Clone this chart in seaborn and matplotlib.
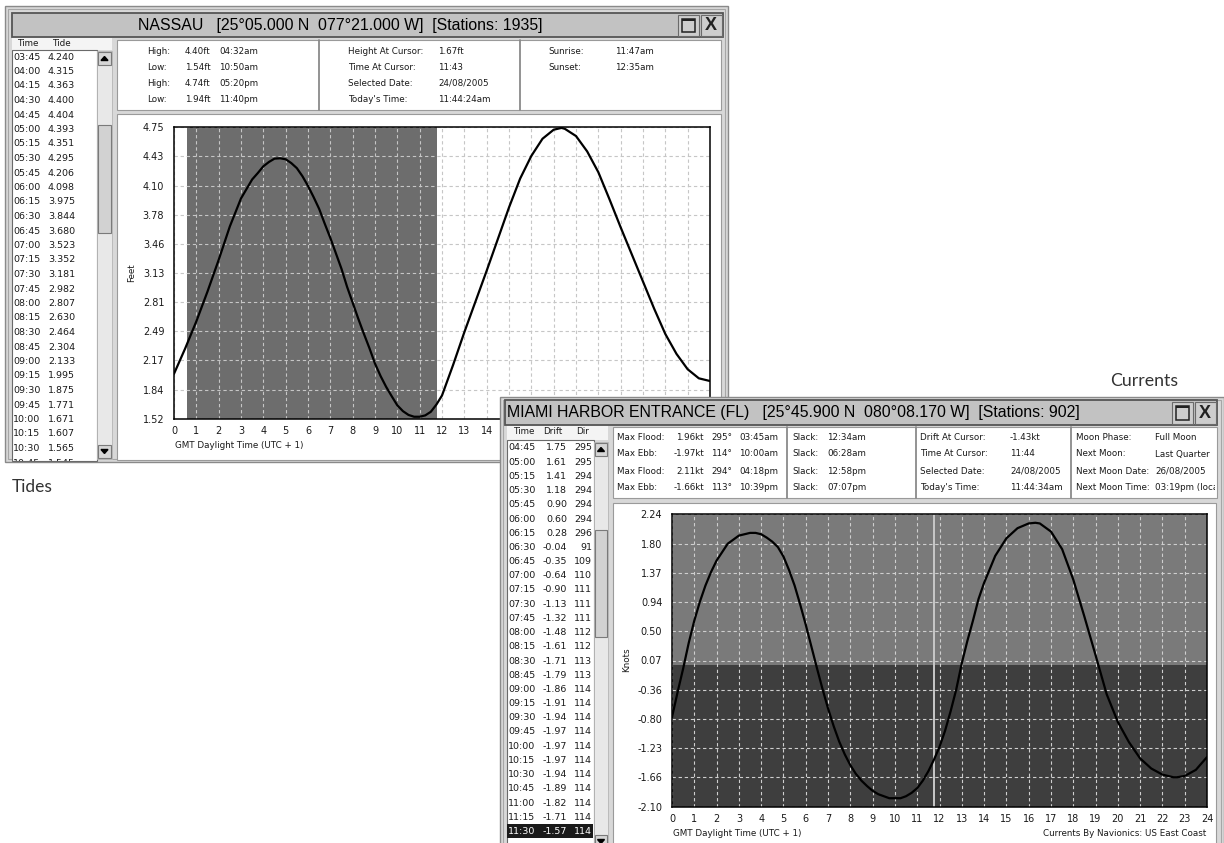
import numpy as np
import pandas as pd
import seaborn as sns
import matplotlib.pyplot as plt
import matplotlib.patches as patches
from matplotlib.transforms import Bbox

# ---- Nassau tides ----
tide_list_times = ["03:45", "04:00", "04:15", "04:30", "04:45", "05:00", "05:15", "05:30", "05:45",
                   "06:00", "06:15", "06:30", "06:45", "07:00", "07:15", "07:30", "07:45", "08:00",
                   "08:15", "08:30", "08:45", "09:00", "09:15", "09:30", "09:45", "10:00", "10:15",
                   "10:30", "10:45"]
tide_list_feet = [4.240, 4.315, 4.363, 4.400, 4.404, 4.393, 4.351, 4.295, 4.206,
                  4.098, 3.975, 3.844, 3.680, 3.523, 3.352, 3.181, 2.982, 2.807,
                  2.630, 2.464, 2.304, 2.133, 1.995, 1.875, 1.771, 1.671, 1.607,
                  1.565, 1.545]
tide_early_hours = [0.0, 0.5, 1.0, 1.5, 2.0, 2.5, 3.0, 3.5]
tide_early_feet = [2.02, 2.30, 2.60, 2.93, 3.28, 3.65, 3.96, 4.17]
tide_late_hours = [11.0, 11.25, 11.5, 11.75, 12.0, 12.5, 13.0, 13.5, 14.0, 14.5, 15.0, 15.5,
                   16.0, 16.5, 17.0, 17.35, 17.5, 18.0, 18.5, 19.0, 19.5, 20.0, 20.5, 21.0,
                   21.5, 22.0, 22.5, 23.0, 23.5, 24.0]
tide_late_feet = [1.545, 1.56, 1.60, 1.68, 1.78, 2.12, 2.48, 2.82, 3.16, 3.51, 3.86, 4.18,
                  4.43, 4.62, 4.72, 4.74, 4.73, 4.65, 4.48, 4.25, 3.95, 3.64, 3.34, 3.04,
                  2.74, 2.46, 2.24, 2.07, 1.97, 1.94]
tide_yticks = [4.75, 4.43, 4.10, 3.78, 3.46, 3.13, 2.81, 2.49, 2.17, 1.84, 1.52]
sunset, sunrise = "00:35", "11:47"

tide_extremes = ["High:", "Low:", "High:", "Low:"]
tide_extreme_ft = ["4.40ft", "1.54ft", "4.74ft", "1.94ft"]
tide_extreme_at = ["04:32am", "10:50am", "05:20pm", "11:40pm"]
tide_cursor_keys = ["Height At Cursor:", "Time At Cursor:", "Selected Date:", "Today's Time:"]
tide_cursor_vals = ["1.67ft", "11:43", "24/08/2005", "11:44:24am"]

# ---- Miami harbor currents ----
cur_list_times = ["04:45", "05:00", "05:15", "05:30", "05:45", "06:00", "06:15", "06:30", "06:45",
                  "07:00", "07:15", "07:30", "07:45", "08:00", "08:15", "08:30", "08:45", "09:00",
                  "09:15", "09:30", "09:45", "10:00", "10:15", "10:30", "10:45", "11:00", "11:15",
                  "11:30"]
cur_list_drift = [1.75, 1.61, 1.41, 1.18, 0.90, 0.60, 0.28, -0.04, -0.35,
                  -0.64, -0.90, -1.13, -1.32, -1.48, -1.61, -1.71, -1.79, -1.86,
                  -1.91, -1.94, -1.97, -1.97, -1.97, -1.94, -1.89, -1.82, -1.71,
                  -1.57]
cur_list_dir = [295, 295, 294, 294, 294, 294, 296, 91, 109,
                110, 111, 111, 111, 112, 112, 113, 113, 114,
                114, 114, 114, 114, 114, 114, 114, 114, 114,
                114]
cur_early_hours = [0.0, 0.25, 0.5, 0.75, 1.0, 1.25, 1.5, 1.75, 2.0, 2.5, 3.0, 3.5, 3.75, 4.0, 4.25, 4.5]
cur_early_knots = [-0.77, -0.40, -0.05, 0.33, 0.66, 0.94, 1.18, 1.38, 1.55, 1.80, 1.92, 1.96,
                   1.96, 1.94, 1.89, 1.83]
cur_late_hours = [11.75, 12.0, 12.25, 12.5, 12.75, 13.0, 13.25, 13.5, 13.75, 14.0, 14.5, 15.0,
                  15.5, 16.0, 16.3, 16.5, 17.0, 17.5, 18.0, 18.5, 19.0, 19.5, 20.0, 20.5,
                  21.0, 21.5, 22.0, 22.5, 22.65, 23.0, 23.5, 24.0]
cur_late_knots = [-1.40, -1.21, -0.97, -0.68, -0.36, 0.03, 0.36, 0.66, 0.98, 1.22, 1.62, 1.88,
                  2.03, 2.10, 2.11, 2.10, 1.98, 1.72, 1.27, 0.72, 0.15, -0.43, -0.84, -1.14,
                  -1.38, -1.53, -1.62, -1.66, -1.66, -1.64, -1.55, -1.36]
cur_yticks = [2.24, 1.80, 1.37, 0.94, 0.50, 0.07, -0.36, -0.80, -1.23, -1.66, -2.10]
cursor_time = "11:44"

cur_max_keys = ["Max Flood:", "Max Ebb:", "Max Flood:", "Max Ebb:"]
cur_max_kt = ["1.96kt", "-1.97kt", "2.11kt", "-1.66kt"]
cur_max_deg = ["295°", "114°", "294°", "113°"]
cur_max_at = ["03:45am", "10:00am", "04:18pm", "10:39pm"]
cur_slack = ["12:34am", "06:28am", "12:58pm", "07:07pm"]
cur_cursor_keys = ["Drift At Cursor:", "Time At Cursor:", "Selected Date:", "Today's Time:"]
cur_cursor_vals = ["-1.43kt", "11:44", "24/08/2005", "11:44:34am"]
moon_keys = ["Moon Phase:", "Next Moon:", "Next Moon Date:", "Next Moon Time:"]
moon_vals = ["Full Moon", "Last Quarter", "26/08/2005", "03:19pm (local)"]


def hours(t):
    h, m = t.split(":")
    return int(h) + int(m) / 60


tide = pd.DataFrame({
    "hour": tide_early_hours + [hours(t) for t in tide_list_times] + tide_late_hours,
    "feet": tide_early_feet + tide_list_feet + tide_late_feet,
})
current = pd.DataFrame({
    "hour": cur_early_hours + [hours(t) for t in cur_list_times] + cur_late_hours,
    "knots": cur_early_knots + cur_list_drift + cur_late_knots,
})

sns.set_style("white")
plt.rcParams["font.family"] = ["DejaVu Sans"]
TITLE_FONT = ["Liberation Sans", "DejaVu Sans"]
SMALL = 6.3

W, H = 1224, 843
fig = plt.figure(figsize=(W / 100, H / 100), dpi=100)


def px_axes(x0, y0, x1, y1):
    return fig.add_axes([x0 / W, 1 - y1 / H, (x1 - x0) / W, (y1 - y0) / H])


def chrome():
    ax = fig.add_axes([0, 0, 1, 1])
    ax.set_xlim(0, W)
    ax.set_ylim(H, 0)
    ax.axis("off")
    return ax


def box(ax, x0, y0, x1, y1, fc, ec="none", lw=1.0, **kw):
    p = patches.Rectangle((x0, y0), x1 - x0, y1 - y0, facecolor=fc, edgecolor=ec, linewidth=lw, **kw)
    ax.add_patch(p)
    return p


def label(ax, x, y, s, size=SMALL, clip=None, **kw):
    kw.setdefault("va", "center")
    kw.setdefault("color", "#1a1a1a")
    t = ax.text(x, y, s, fontsize=size, **kw)
    if clip is not None:
        # Agg clips text only to rectangles, given in display pixels
        x0, y0, x1, y1 = clip
        t.set_clip_box(Bbox.from_extents(x0, H - y1, x1, H - y0))
        t.set_clip_on(True)
    return t


def window(ax, x0, y0, x1, y1, bar, title, tx, ha):
    box(ax, x0, y0, x1, y1, "#d8d8d8", "#8a8a8a", 1.0)
    box(ax, x0 + 3, y0 + 3, x1 - 3, y1 - 3, "none", "#a6a6a6", 0.8)
    bx0, by0, bx1, by1 = bar
    box(ax, bx0, by0, bx1, by1, "#c2c2c2", "#555555", 1.3)
    label(ax, tx, (by0 + by1) / 2 + 0.5, title, size=11.4, ha=ha, color="black", family=TITLE_FONT)
    # maximise and close buttons
    s0 = bx1 - 45
    box(ax, s0, by0 + 2, s0 + 21, by1 - 1, "#cdcdcd", "#6a6a6a", 0.8)
    box(ax, s0 + 4, by0 + 6, s0 + 17, by1 - 5, "none", "#222222", 1.1)
    box(ax, s0 + 4, by0 + 6, s0 + 17, by0 + 8, "#222222")
    box(ax, s0 + 23, by0 + 2, bx1 - 1, by1 - 1, "#cdcdcd", "#6a6a6a", 0.8)
    label(ax, s0 + 33, (by0 + by1) / 2 + 1, "X", size=13, ha="center", weight="bold",
          color="#222222", family=TITLE_FONT)


def scrollbar(ax, x0, x1, y0, y1, t0, t1, down=True):
    box(ax, x0, y0, x1, y1, "#e8e8e8", "#b4b4b4", 0.6)
    box(ax, x0 + 1, y0 + 1, x1 - 1, y0 + 14, "#d6d6d6", "#7a7a7a", 0.8)
    cx, cy = (x0 + x1) / 2, y0 + 7.5
    ax.add_patch(patches.Polygon([(cx - 3.5, cy + 2), (cx + 3.5, cy + 2), (cx, cy - 2)], color="black"))
    box(ax, x0 + 1, t0, x1 - 1, t1, "#d2d2d2", "#7a7a7a", 0.8)
    if down:
        box(ax, x0 + 1, y1 - 14, x1 - 1, y1 - 1, "#d6d6d6", "#7a7a7a", 0.8)
        cy = y1 - 7.5
        ax.add_patch(patches.Polygon([(cx - 3.5, cy - 2), (cx + 3.5, cy - 2), (cx, cy + 2)], color="black"))


def style_chart(ax, xlim, ylim, yticks, grid, last_xlabel=24):
    ax.set_xlim(*xlim)
    ax.set_ylim(*ylim)
    ax.set_xticks(range(0, 25))
    ax.set_xticklabels([str(h) if h <= last_xlabel else "" for h in range(0, 25)])
    ax.set_yticks(yticks)
    ax.set_yticklabels([f"{v:.2f}" for v in yticks])
    ax.set_xlabel("")
    ax.set_ylabel("")
    ax.grid(True, color=grid, linestyle=(0, (3, 2.5)), linewidth=0.8)
    ax.set_axisbelow(False)
    for sp in ax.spines.values():
        sp.set_color("black")
        sp.set_linewidth(1.1)
        sp.set_visible(True)
        sp.set_zorder(5)
    ax.tick_params(direction="in", length=4, width=1, labelsize=7, colors="black", labelcolor="#1a1a1a")
    ax.tick_params(axis="y", pad=7)
    ax.tick_params(axis="x", pad=5)


# ================= Tides window =================
top = chrome()
window(top, 5, 6, 728, 462, (12, 13, 723, 37),
       "NASSAU   [25°05.000 N  077°21.000 W]  [Stations: 1935]", 340, "center")

# list of heights
box(top, 12, 38, 112, 50, "#f4f4f4")
label(top, 17, 44, "Time")
label(top, 52, 44, "Tide")
box(top, 12, 50, 97, 461, "white", "#6a6a6a", 0.8)
for i, (t, v) in enumerate(zip(tide_list_times, tide_list_feet)):
    y = 57 + 14.5 * i
    label(top, 13, y, t, size=6.8, clip=(12, 50, 97, 461))
    label(top, 48, y, f"{v:.3f}", size=6.8, clip=(12, 50, 97, 461))
scrollbar(top, 97, 112, 51, 459, 125, 233)

# info panel
box(top, 117, 40, 721, 110, "white", "#9a9a9a", 0.8)
for xd in (319, 520):
    top.plot([xd, xd], [40, 110], color="#8a8a8a", lw=1.3)
for i, y in enumerate([52, 67, 83, 99]):
    label(top, 147, y, tide_extremes[i])
    label(top, 185, y, tide_extreme_ft[i])
    label(top, 219, y, tide_extreme_at[i])
    label(top, 348, y, tide_cursor_keys[i])
    label(top, 438, y, tide_cursor_vals[i])
label(top, 548, 52, "Sunrise:")
label(top, 615, 52, sunrise + "am")
label(top, 548, 67, "Sunset:")
label(top, 615, 67, "12:35am")

# chart panel
box(top, 117, 114, 721, 460, "white", "#9a9a9a", 0.8)
label(top, 132, 273, "Feet", ha="center", rotation=90)
label(top, 175, 446, "GMT Daylight Time (UTC + 1)")
label(top, 12, 487, "Tides", size=12.5, family=["Lato", "DejaVu Sans"], color="#333333")
label(top, 1110, 381, "Currents", size=12.8, family=["Lato", "DejaVu Sans"], color="#333333")

ax_t = px_axes(174, 127, 710, 419)
ax_t.set_facecolor("white")
ax_t.axvspan(hours(sunset), hours(sunrise), color="#6d6d6d", lw=0, zorder=0)
sns.lineplot(data=tide, x="hour", y="feet", ax=ax_t, color="black", linewidth=1.6, zorder=3)
# hours 15-24 sit under the currents window
style_chart(ax_t, (0, 24), (1.52, 4.75), tide_yticks, "#c6c6c6", last_xlabel=14)

# ================= Currents window =================
bot = chrome()
window(bot, 500, 397, 1224, 860, (505, 400, 1217, 425),
       "MIAMI HARBOR ENTRANCE (FL)   [25°45.900 N  080°08.170 W]  [Stations: 902]", 507, "left")

box(bot, 507, 426, 608, 440, "#f4f4f4")
label(bot, 513, 432, "Time")
label(bot, 543, 432, "Drift")
label(bot, 576, 432, "Dir")
box(bot, 507, 440, 594, 850, "white", "#6a6a6a", 0.8)
for i, (t, d, a) in enumerate(zip(cur_list_times, cur_list_drift, cur_list_dir)):
    y = 448 + 14.2 * i
    col = "#1a1a1a"
    if i == len(cur_list_times) - 1:
        box(bot, 507, y - 7, 593, y + 7, "#1a1a1a")
        col = "white"
    label(bot, 508, y, t, size=6.8, color=col)
    label(bot, 567, y, f"{d:.2f}", size=6.8, ha="right", color=col)
    label(bot, 592, y, str(a), size=6.8, ha="right", color=col)
scrollbar(bot, 594, 608, 442, 849, 530, 637)

box(bot, 613, 427, 1217, 498, "white", "#9a9a9a", 0.8)
for xd in (787, 916, 1071):
    bot.plot([xd, xd], [427, 498], color="#8a8a8a", lw=1.3)
for i, y in enumerate([438, 454, 471, 488]):
    label(bot, 617, y, cur_max_keys[i])
    label(bot, 704, y, cur_max_kt[i], ha="right")
    label(bot, 711, y, cur_max_deg[i])
    label(bot, 739, y, cur_max_at[i])
    label(bot, 792, y, "Slack:")
    label(bot, 827, y, cur_slack[i])
    label(bot, 920, y, cur_cursor_keys[i])
    label(bot, 1010, y, cur_cursor_vals[i])
    label(bot, 1076, y, moon_keys[i])
    label(bot, 1155, y, moon_vals[i], clip=(613, 427, 1215, 498))

box(bot, 613, 503, 1216, 850, "white", "#9a9a9a", 0.8)
label(bot, 627, 660, "Knots", ha="center", rotation=90)
label(bot, 673, 833, "GMT Daylight Time (UTC + 1)")
label(bot, 1206, 833, "Currents By Navionics: US East Coast", ha="right")

ax_c = px_axes(672, 514, 1207, 807)
ax_c.set_facecolor("#3e3e3e")
ax_c.axhspan(0, 2.24, color="#7a7a7a", lw=0, zorder=0)
ax_c.axvline(hours(cursor_time), color="#c8c8c8", lw=1.4, zorder=2)
sns.lineplot(data=current, x="hour", y="knots", ax=ax_c, color="black", linewidth=1.6, zorder=3)
style_chart(ax_c, (0, 24), (-2.10, 2.24), cur_yticks, "#cfcfcf")

fig.savefig("out.png", dpi=100)
